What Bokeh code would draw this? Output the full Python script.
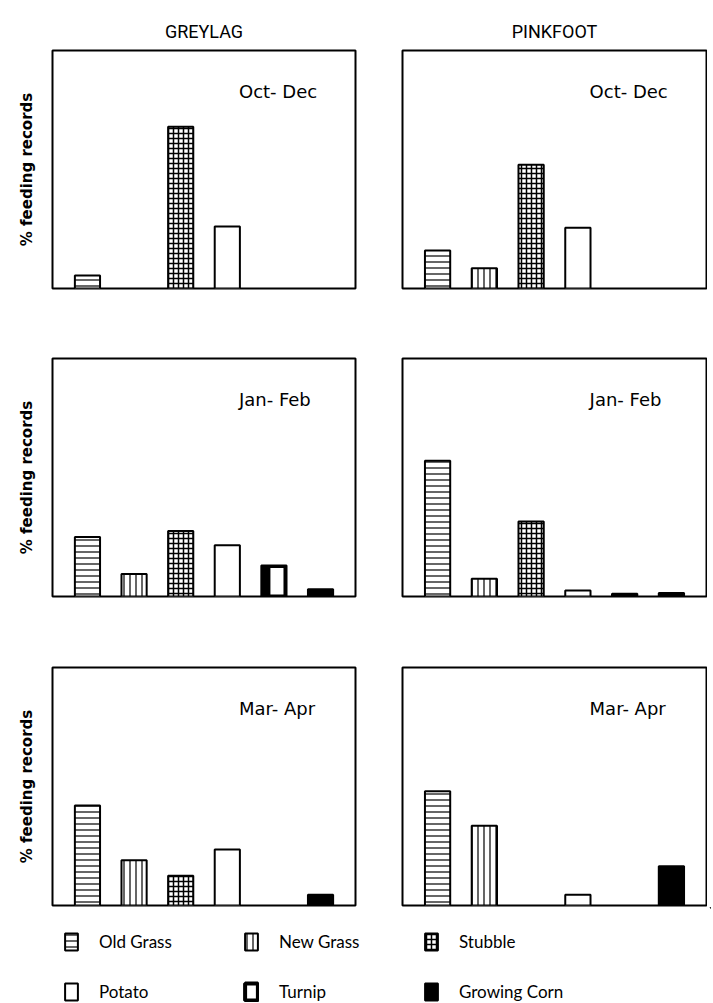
from bokeh.plotting import figure
from bokeh.models import Range1d, Label, Legend, LegendItem, ColumnDataSource, FixedTicker
from bokeh.layouts import column, row
from bokeh.embed import file_html
from bokeh.resources import INLINE

# ---------------- data ----------------
categories = ["Old Grass", "New Grass", "Stubble", "Potato", "Turnip", "Growing Corn"]
species = ["GREYLAG", "PINKFOOT"]
periods = ["Oct- Dec", "Jan- Feb", "Mar- Apr"]

greylag_oct_dec = [5.5, 0, 68, 26, 0, 0]
pinkfoot_oct_dec = [16, 8.5, 52, 25.5, 0, 0]
greylag_jan_feb = [25, 9.5, 27.5, 21.5, 13, 3]
pinkfoot_jan_feb = [57, 7.5, 31.5, 2.5, 1.2, 1.5]
greylag_mar_apr = [42, 19, 12.5, 23.5, 0, 4.5]
pinkfoot_mar_apr = [48, 33.5, 0, 4.5, 0, 16.5]

panels = [
    [greylag_oct_dec, pinkfoot_oct_dec],
    [greylag_jan_feb, pinkfoot_jan_feb],
    [greylag_mar_apr, pinkfoot_mar_apr],
]

# ---------------- styles ----------------
LEGEND_FONT = "Lato"
PERIOD_FONT = "DejaVu Sans"
styles = {
    "Old Grass": dict(fill_color="white", hatch_pattern="horizontal_line", hatch_scale=6,
                      hatch_weight=1.2, hatch_color="black"),
    "New Grass": dict(fill_color="white", hatch_pattern="vertical_line", hatch_scale=6,
                      hatch_weight=1.2, hatch_color="black"),
    "Stubble": dict(fill_color="white", hatch_pattern="cross", hatch_scale=5,
                    hatch_weight=1.5, hatch_color="black"),
    "Potato": dict(fill_color="white"),
    "Turnip": dict(fill_color="black"),
    "Growing Corn": dict(fill_color="black"),
}

BAR_W = 0.54
X0 = 0.75
top_borders = [50, 68, 69]


def make_panel(values, row_i, col_i):
    left = col_i == 0
    p = figure(
        frame_width=303 if left else 304, frame_height=238,
        x_range=Range1d(0, 6.5), y_range=Range1d(0, 100),
        output_backend="svg", toolbar_location=None,
        x_axis_location=None, y_axis_location="left" if left else None,
        min_border_left=52 if left else 24,
        min_border_right=23 if left else 1,
        min_border_top=top_borders[row_i], min_border_bottom=2,
        title=species[col_i] if row_i == 0 else None,
    )
    p.background_fill_color = "white"
    p.border_fill_color = "white"
    p.outline_line_color = "black"
    p.outline_line_width = 2
    p.grid.visible = False
    if row_i == 0:
        p.title.align = "center"
        p.title.text_font = "Roboto"
        p.title.text_font_size = "18px"
        p.title.text_font_style = "normal"
        p.title.text_color = "black"
        p.title.standoff = 17
    if left:
        ax = p.yaxis[0]
        ax.ticker = FixedTicker(ticks=[])
        ax.axis_line_color = None
        ax.major_tick_line_color = None
        ax.minor_tick_line_color = None
        ax.major_label_text_font_size = "0px"
        ax.axis_label = "% feeding records"
        ax.axis_label_text_font = "DejaVu Sans"
        ax.axis_label_text_font_style = "bold"
        ax.axis_label_text_font_size = "15px"
        ax.axis_label_text_color = "black"
        ax.axis_label_standoff = 17

    for i, (cat, v) in enumerate(zip(categories, values)):
        if v <= 0:
            continue
        src = ColumnDataSource(dict(x=[X0 + i], top=[v]))
        p.vbar(x="x", top="top", bottom=0, width=BAR_W, source=src,
               line_color="black", line_width=2, **styles[cat])
        if cat == "Turnip" and v > 2:
            src2 = ColumnDataSource(dict(x=[X0 + i + 0.065], top=[v - 1.0]))
            p.vbar(x="x", top="top", bottom=0.8, width=0.28, source=src2,
                   fill_color="white", line_color=None)

    p.add_layout(Label(x=4.0, y=82.8, text=periods[row_i], text_font=PERIOD_FONT,
                       text_font_size="18px", text_baseline="middle",
                       text_align="left", text_color="black"))
    return p


rows = []
for r_i in range(3):
    rows.append(row(make_panel(panels[r_i][0], r_i, 0), make_panel(panels[r_i][1], r_i, 1)))

# ---------------- legend figure ----------------
lf = figure(width=711, height=96, x_range=Range1d(0, 1), y_range=Range1d(0, 1),
            output_backend="svg", toolbar_location=None,
            x_axis_location=None, y_axis_location=None,
            min_border=0)
lf.outline_line_color = None
lf.grid.visible = False
items = []
for cat in categories:
    st = dict(styles[cat])
    lw = 2
    if cat == "Turnip":
        st = dict(fill_color="white")
        lw = 4
    r = lf.vbar(x=[5], top=[5], bottom=4, width=0.5, line_color="black", line_width=lw, **st)
    items.append(LegendItem(label=cat, renderers=[r]))

legend = Legend(items=items, location=(63, 1), orientation="horizontal", ncols=3,
                glyph_width=16, glyph_height=21, label_standoff=20, label_width=115,
                label_height=21, spacing=29, padding=0, margin=0,
                border_line_color=None, background_fill_alpha=0,
                label_text_font=LEGEND_FONT, label_text_font_size="17px",
                label_text_color="black")
lf.add_layout(legend)

layout = column(*rows, lf)
open("out.html", "w").write(file_html(layout, INLINE))
